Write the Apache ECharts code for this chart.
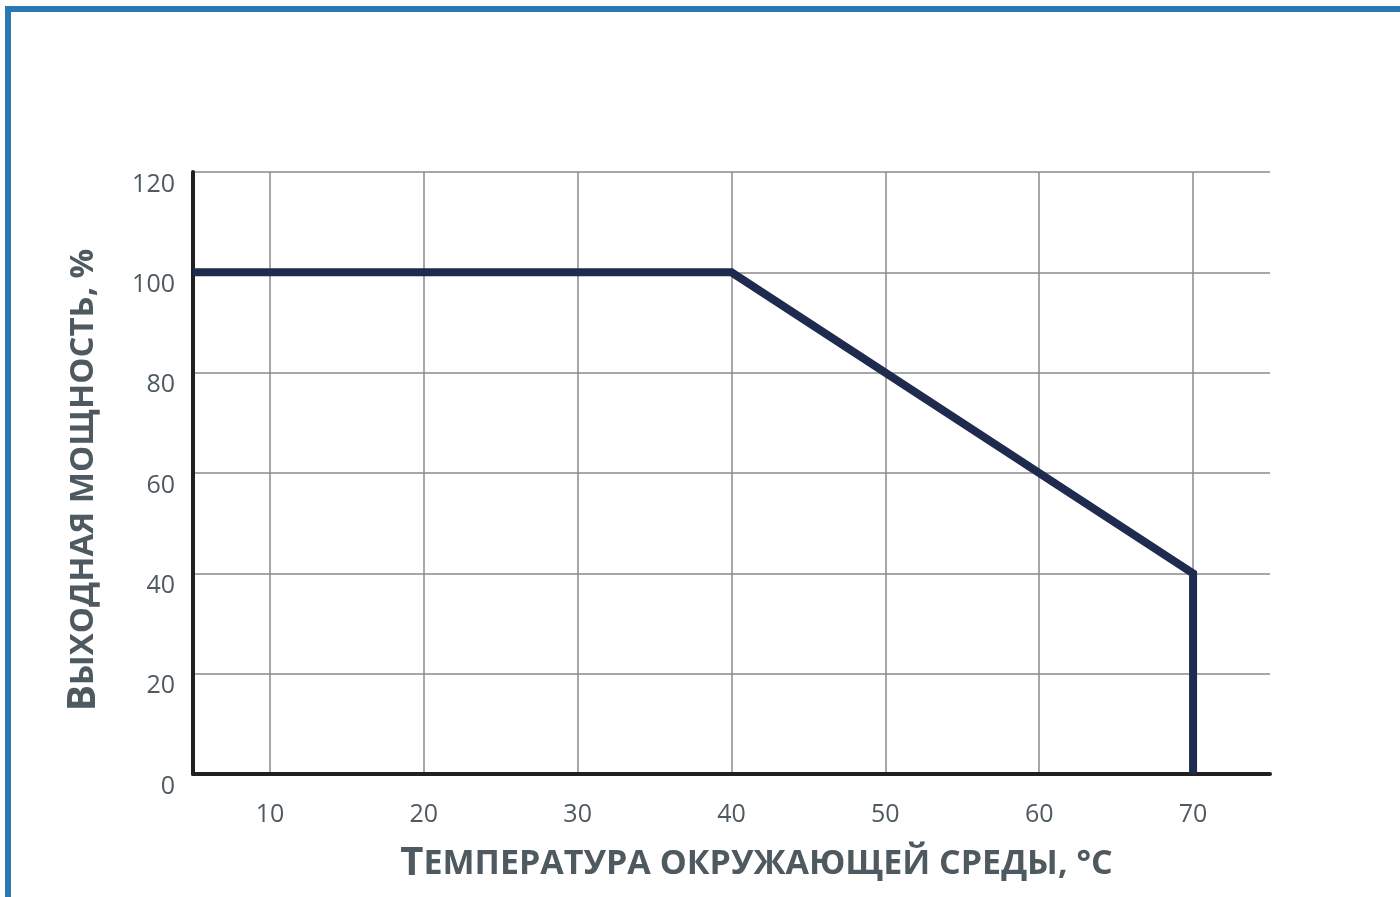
<!DOCTYPE html>
<html>
<head>
<meta charset="utf-8">
<script src="https://cdn.jsdelivr.net/npm/echarts@6/dist/echarts.min.js"></script>
<style>
  html, body { margin: 0; padding: 0; background: #fff; }
  #chart { width: 1400px; height: 897px; }
</style>
</head>
<body>
<div id="chart"></div>
<script>
// температура, °C
const temps = [5, 40, 70, 70];
// выходная мощность, %
const power = [100, 100, 40, 0];
const xTicks = [10, 20, 30, 40, 50, 60, 70];

const textColor = "#4e5a60";
const myChart = echarts.init(document.getElementById("chart"));

const option = {
  animation: false,
  graphic: [
    // синяя рамка сверху и слева
    { type: "rect", shape: { x: 5, y: 6, width: 1395, height: 6 }, style: { fill: "#2b79b2" } },
    { type: "rect", shape: { x: 5, y: 6, width: 6, height: 891 }, style: { fill: "#2b79b2" } },
  ],
  grid: { left: 193, right: 130, top: 172, bottom: 123, containLabel: false, outerBoundsMode: "none" },
  xAxis: {
    type: "value",
    min: 5,
    max: 75,
    name: "{big|Т}{sm|ЕМПЕРАТУРА ОКРУЖАЮЩЕЙ СРЕДЫ, °C}",
    nameLocation: "middle",
    nameGap: 70,
    nameTextStyle: {
      padding: [0, 0, 0, 50],
      rich: {
        big: { fontFamily: "Open Sans", fontWeight: "bold", fontSize: 40, color: textColor },
        sm: { fontFamily: "Open Sans", fontWeight: "bold", fontSize: 34, color: textColor },
      },
    },
    axisLine: { onZero: false, lineStyle: { color: "#231f20", width: 4 } },
    axisTick: { show: false, customValues: xTicks },
    axisLabel: {
      customValues: xTicks,
      margin: 28,
      color: textColor,
      fontFamily: "Open Sans",
      fontSize: 25,
    },
    splitLine: { show: true, lineStyle: { color: "#8a8a8a", width: 1.5 } },
  },
  yAxis: {
    type: "value",
    min: 0,
    max: 120,
    interval: 20,
    name: "{big|В}{sm|ЫХОДНАЯ МОЩНОСТЬ, %}",
    nameLocation: "middle",
    nameGap: 90,
    nameRotate: 90,
    nameTextStyle: {
      padding: [0, 14, 0, 0],
      rich: {
        big: { fontFamily: "Open Sans", fontWeight: "bold", fontSize: 39, color: textColor },
        sm: { fontFamily: "Open Sans", fontWeight: "bold", fontSize: 33, color: textColor },
      },
    },
    axisLine: { show: true, lineStyle: { color: "#231f20", width: 4 } },
    axisTick: { show: false },
    axisLabel: {
      margin: 18,
      color: textColor,
      fontFamily: "Open Sans",
      fontSize: 25,
      verticalAlign: "top",
    },
    splitLine: { show: true, lineStyle: { color: "#8a8a8a", width: 1.5 } },
  },
  series: [
    {
      type: "line",
      data: temps.map((t, i) => [t, power[i]]),
      symbol: "none",
      lineStyle: { color: "#1f2b4e", width: 8, join: "miter" },
      z: 5,
    },
  ],
};

myChart.setOption(option);
</script>
</body>
</html>
